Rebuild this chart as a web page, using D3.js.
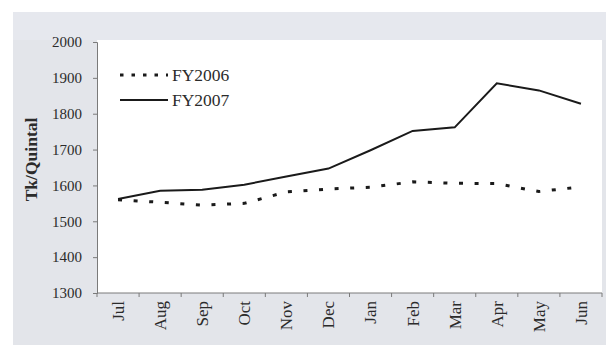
<!DOCTYPE html>
<html>
<head>
<meta charset="utf-8">
<script src="https://cdn.jsdelivr.net/npm/d3@7"></script>
<style>
  html, body { margin: 0; padding: 0; background: #ffffff; }
  svg { display: block; }
  text { font-family: "Liberation Serif", "Times New Roman", serif; fill: #2b2b2b; }
</style>
</head>
<body>
<svg id="chart" width="606" height="345"></svg>
<script>
// Monthly prices, Tk per quintal
const months = ["Jul", "Aug", "Sep", "Oct", "Nov", "Dec", "Jan", "Feb", "Mar", "Apr", "May", "Jun"];
const fy2006 = [1560, 1553, 1545, 1550, 1582, 1590, 1595, 1610, 1606, 1605, 1583, 1596];
const fy2007 = [1562, 1585, 1588, 1602, 1625, 1647, 1698, 1752, 1762, 1885, 1865, 1828];
const yTicks = [1300, 1400, 1500, 1600, 1700, 1800, 1900, 2000];
const seriesNames = ["FY2006", "FY2007"];
const yTitle = "Tk/Quintal";

const svg = d3.select("#chart");

// Grey panel and white plotting area
svg.append("rect").attr("x", 13).attr("y", 12).attr("width", 593).attr("height", 333)
  .attr("fill", "#e3e5ea");
svg.append("rect").attr("x", 13).attr("y", 12).attr("width", 593).attr("height", 28)
  .attr("fill", "#e6e8ee");

const plot = { left: 97, right: 602, top: 42, bottom: 293 };
svg.append("rect").attr("x", plot.left).attr("y", 40)
  .attr("width", plot.right - plot.left).attr("height", plot.bottom - 40)
  .attr("fill", "#ffffff");

const x = d3.scaleBand().domain(months).range([plot.left, plot.right]).padding(0);
const y = d3.scaleLinear().domain([1300, 2000]).range([plot.bottom, plot.top]);

// Y axis
const yAxis = svg.append("g").attr("transform", `translate(${plot.left},0)`)
  .call(d3.axisLeft(y).tickValues(yTicks).tickSize(4).tickPadding(11).tickFormat(d3.format("d")));
yAxis.select(".domain").attr("stroke", "#7a7a7a");
yAxis.selectAll(".tick line").attr("stroke", "#7a7a7a");
yAxis.selectAll(".tick text").style("font-size", "15px").attr("fill", "#2b2b2b");

// X axis: ticks at category boundaries
const xAxis = svg.append("g").attr("transform", `translate(0,${plot.bottom})`);
xAxis.append("line").attr("x1", plot.left).attr("x2", plot.right)
  .attr("y1", 0).attr("y2", 0).attr("stroke", "#7a7a7a");
const boundaries = months.map(m => x(m)).concat([x.range()[1]]);
xAxis.selectAll("line.b").data(boundaries).join("line").attr("class", "b")
  .attr("x1", d => d).attr("x2", d => d).attr("y1", 0).attr("y2", 4)
  .attr("stroke", "#7a7a7a");
xAxis.selectAll("text").data(months).join("text")
  .attr("transform", d => `translate(${x(d) + x.bandwidth() / 2},8) rotate(-90)`)
  .attr("text-anchor", "end").attr("dy", "0.35em")
  .style("font-size", "17px").text(d => d);

// Y axis title
svg.append("text")
  .attr("transform", `translate(31,${(plot.top + plot.bottom) / 2 - 8}) rotate(-90)`)
  .attr("text-anchor", "middle").attr("dy", "0.35em")
  .style("font-size", "17.5px").style("font-weight", "bold").attr("fill", "#1e1e1e")
  .text(yTitle);

// Lines
const line = d3.line()
  .x((d, i) => x(months[i]) + x.bandwidth() / 2)
  .y(d => y(d));

svg.append("path").datum(fy2006).attr("d", line)
  .attr("fill", "none").attr("stroke", "#1a1a1a").attr("stroke-width", 3)
  .attr("stroke-dasharray", "4,11.6");
svg.append("path").datum(fy2007).attr("d", line)
  .attr("fill", "none").attr("stroke", "#1a1a1a").attr("stroke-width", 2)
  .attr("stroke-linejoin", "miter");

// Legend
const legend = svg.append("g");
const legendRows = [
  { name: seriesNames[0], y: 75, dash: "3.5,8", width: 3 },
  { name: seriesNames[1], y: 100, dash: null, width: 2 }
];
legendRows.forEach(r => {
  const ln = legend.append("line").attr("x1", 120).attr("x2", 168)
    .attr("y1", r.y).attr("y2", r.y)
    .attr("stroke", "#1a1a1a").attr("stroke-width", r.width);
  if (r.dash) ln.attr("stroke-dasharray", r.dash);
  legend.append("text").attr("x", 172).attr("y", r.y).attr("dy", "0.35em")
    .style("font-size", "17.5px").text(r.name);
});
</script>
</body>
</html>
